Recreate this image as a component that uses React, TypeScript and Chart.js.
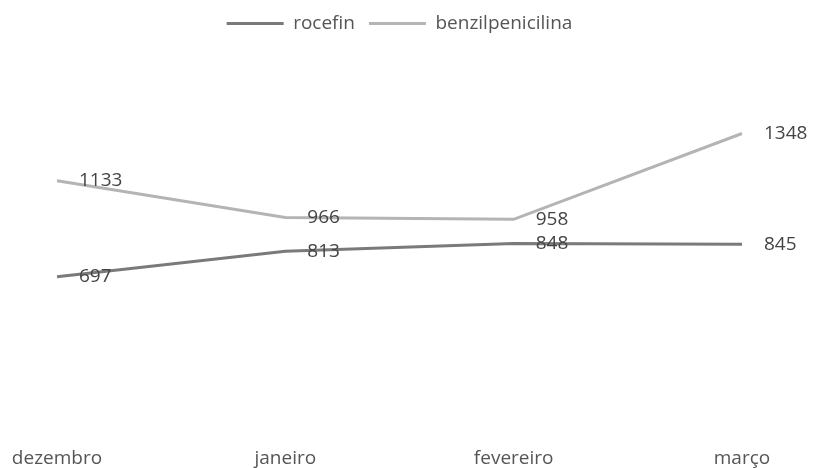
import React, { useEffect, useRef } from 'react';
import { Chart, registerables } from 'chart.js';

Chart.register(...registerables);

const categories = ['dezembro', 'janeiro', 'fevereiro', 'março'];
const rocefin = [697, 813, 848, 845];
const benzilpenicilina = [1133, 966, 958, 1348];
const seriesNames = ['rocefin', 'benzilpenicilina'];
const seriesColors = ['#7a7a7a', '#b4b4b4'];

const FONT = "'Open Sans', sans-serif";

const valueLabels = {
  id: 'valueLabels',
  afterDatasetsDraw(chart: any) {
    const ctx = chart.ctx;
    ctx.save();
    ctx.font = `19px ${FONT}`;
    ctx.fillStyle = '#444444';
    ctx.textAlign = 'left';
    ctx.textBaseline = 'middle';
    chart.data.datasets.forEach((ds: any, i: number) => {
      const meta = chart.getDatasetMeta(i);
      meta.data.forEach((pt: any, j: number) => {
        ctx.fillText(String(ds.data[j]), pt.x + 22, pt.y);
      });
    });
    ctx.restore();
  },
};

const legendSpace = {
  id: 'legendSpace',
  beforeInit(chart: any) {
    const legend = chart.legend;
    if (!legend) return;
    const fit = legend.fit;
    legend.fit = function () {
      fit.call(this);
      this.height += 35;
    };
  },
};

export default function App() {
  const ref = useRef<HTMLCanvasElement | null>(null);
  useEffect(() => {
    if (!ref.current) return;
    const chart = new Chart(ref.current, {
      type: 'line',
      data: {
        labels: categories,
        datasets: [
          {
            label: seriesNames[0],
            data: rocefin,
            borderColor: seriesColors[0],
            backgroundColor: seriesColors[0],
            borderWidth: 3,
            pointRadius: 0,
            tension: 0,
          },
          {
            label: seriesNames[1],
            data: benzilpenicilina,
            borderColor: seriesColors[1],
            backgroundColor: seriesColors[1],
            borderWidth: 3,
            pointRadius: 0,
            tension: 0,
          },
        ],
      },
      options: {
        responsive: false,
        animation: false,
        layout: { padding: { left: 57, right: 73, top: 0, bottom: -19 } },
        scales: {
          x: {
            grid: { display: false, drawTicks: false },
            border: { display: false },
            ticks: { color: '#555555', font: { family: FONT, size: 19 }, padding: 17 },
            afterFit: (scale: any) => {
              scale.paddingLeft = 0;
              scale.paddingRight = 0;
            },
          },
          y: { display: false, min: 0, max: 1600 },
        },
        plugins: {
          legend: {
            position: 'top',
            labels: {
              boxWidth: 57,
              boxHeight: 3,
              color: '#555555',
              padding: 14,
              font: { family: FONT, size: 19 },
              generateLabels: (chart: any) =>
                (Chart.defaults.plugins.legend.labels.generateLabels as any)(chart).map((l: any) => ({
                  ...l,
                  lineWidth: 0,
                })),
            },
          },
          tooltip: { enabled: false },
        },
      },
      plugins: [valueLabels, legendSpace],
    });
    return () => chart.destroy();
  }, []);
  return (
    <div style={{ position: 'absolute', left: 0, top: 0, width: 815, height: 468, background: '#fff' }}>
      <canvas ref={ref} width={815} height={468} />
    </div>
  );
}
